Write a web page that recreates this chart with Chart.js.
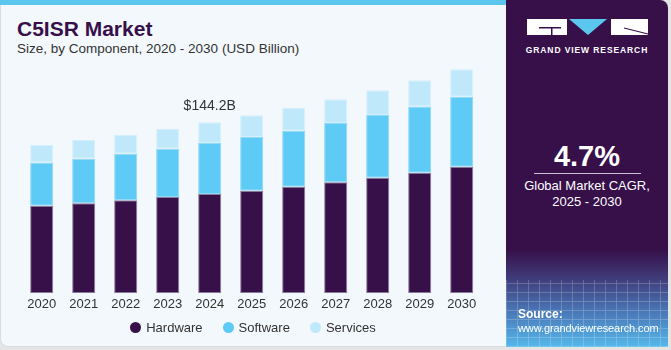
<!DOCTYPE html>
<html>
<head>
<meta charset="utf-8">
<script src="https://cdn.jsdelivr.net/npm/chart.js@4.4.1/dist/chart.umd.min.js"></script>
<style>
html,body{margin:0;padding:0;}
body{width:671px;height:350px;background:#e4e4e4;position:relative;overflow:hidden;font-family:"Liberation Sans",Arial,sans-serif;}
#card{position:absolute;left:0;top:0;width:520px;height:347px;background:#f3f8fc;border-radius:0 0 0 8px;border:1px solid #d8dde2;border-top:none;box-sizing:border-box;overflow:hidden;}
#topbar{position:absolute;left:0;top:0;width:506px;height:5px;background:#5bc6ee;}
#title{position:absolute;left:17px;top:17px;font-size:21px;font-weight:bold;color:#37104a;letter-spacing:0px;}
#subtitle{position:absolute;left:17px;top:41px;font-size:13.5px;color:#333;}
#chartwrap{position:absolute;left:0;top:0;width:506px;height:350px;}
#panel{position:absolute;left:506px;top:0;width:162px;height:347px;border-radius:0 8px 0 0;overflow:hidden;
 background:linear-gradient(to bottom,#37104a 0%,#37104a 72%,#3f3a78 80%,#4a78b8 90%,#55b8ea 100%);}
#grid{position:absolute;left:0;top:280px;width:162px;height:67px;opacity:0.25;
 background-image:repeating-linear-gradient(0deg,rgba(255,255,255,0.8) 0 1px,transparent 1px 9px),repeating-linear-gradient(90deg,rgba(255,255,255,0.8) 0 1px,transparent 1px 11px);}
#legend{position:absolute;top:320px;left:0;width:506px;text-align:center;font-size:13px;color:#333;}
#legend span.item{display:inline-block;margin:0 10px;}
#legend span.dot{display:inline-block;width:11px;height:11px;border-radius:50%;vertical-align:-1px;margin-right:5px;}
.w{color:#fff;position:absolute;}
</style>
</head>
<body>
<div id="card"></div>
<div id="topbar"></div>
<div id="title">C5ISR Market</div>
<div id="subtitle">Size, by Component, 2020 - 2030 (USD Billion)</div>
<div id="chartwrap"><canvas id="c" width="506" height="350"></canvas></div>
<div id="legend"></div>
<div id="panel">
  <div id="grid"></div>
  <svg style="position:absolute;left:0;top:0" width="162" height="60">
    <rect x="21" y="19" width="40" height="16" fill="#fff"/>
    <rect x="33" y="27" width="22" height="1.5" fill="#37104a"/>
    <rect x="45" y="27" width="1.5" height="8" fill="#37104a"/>
    <polygon points="63,19 101,19 82,35" fill="#5bc6ee"/>
    <rect x="105" y="19" width="37" height="16" fill="#fff"/>
    <line x1="118" y1="28" x2="142" y2="34" stroke="#37104a" stroke-width="1.2"/>
  </svg>
  <div class="w" style="left:0;width:162px;top:45px;text-align:center;font-size:8.5px;font-weight:bold;letter-spacing:0.9px;">GRAND VIEW RESEARCH</div>
  <div class="w" style="left:0;width:162px;top:140px;text-align:center;font-size:29px;font-weight:bold;">4.7%</div>
  <div style="position:absolute;left:28px;top:173px;width:107px;height:1px;background:#cbbfd6;"></div>
  <div class="w" style="left:0;width:162px;top:178px;text-align:center;font-size:13px;line-height:16px;">Global Market CAGR,<br>2025 - 2030</div>
  <div class="w" style="left:12px;top:307px;font-size:12px;font-weight:bold;">Source:</div>
  <div class="w" style="left:12px;top:322px;font-size:11px;letter-spacing:-0.1px;">www.grandviewresearch.com</div>
</div>
<script>
const categories = ["2020","2021","2022","2023","2024","2025","2026","2027","2028","2029","2030"];
const hardware = [73.9,75.9,78.4,81.2,83.7,86.5,89.9,93.6,97.5,101.7,106.8];
const software = [36.3,37.6,39.3,40.7,43.0,45.3,47.2,50.0,52.9,55.7,59.0];
const services = [14.9,15.8,16.0,16.9,17.5,18.3,19.4,20.0,20.8,22.3,23.1];
const seriesNames = ["Hardware","Software","Services"];
const seriesColors = ["#37104a","#5ecbf7","#bfe9fb"];
const borderColors = ["#8b7d9c","#8fd8f7","#d4f0fc"];
const annotation = {index:4, text:"$144.2B"};

const legend = document.getElementById('legend');
seriesNames.forEach((n,i)=>{
  const s=document.createElement('span');s.className='item';
  s.innerHTML='<span class="dot" style="background:'+seriesColors[i]+'"></span>'+n;
  legend.appendChild(s);
});

const labelPlugin = {
  id:'topLabel',
  afterDatasetsDraw(chart){
    const meta = chart.getDatasetMeta(2);
    const el = meta.data[annotation.index];
    const ctx = chart.ctx;
    ctx.save();
    ctx.font = '14px "Liberation Sans", Arial, sans-serif';
    ctx.fillStyle = '#333';
    ctx.textAlign = 'center';
    ctx.textBaseline = 'middle';
    ctx.fillText(annotation.text, el.x, el.y - 16);
    ctx.restore();
  }
};

new Chart(document.getElementById('c'), {
  type:'bar',
  data:{
    labels:categories,
    datasets:[hardware,software,services].map((d,i)=>({
      label:seriesNames[i], data:d, backgroundColor:seriesColors[i],
      borderColor:borderColors[i], borderWidth:1, borderSkipped:false,
      barPercentage:0.55, categoryPercentage:1.0
    }))
  },
  options:{
    responsive:false, animation:false,
    layout:{padding:{left:20.7,right:23.3,top:56.1,bottom:36.7}},
    plugins:{legend:{display:false},tooltip:{enabled:false}},
    scales:{
      x:{stacked:true, grid:{display:false,drawTicks:false}, border:{display:false},
         ticks:{color:'#333',font:{size:13,family:'"Liberation Sans", Arial, sans-serif'},padding:3,maxRotation:0},
         afterFit(a){a.height=20;}},
      y:{stacked:true, display:false, min:0, max:200}
    }
  },
  plugins:[labelPlugin]
});
</script>
</body>
</html>
